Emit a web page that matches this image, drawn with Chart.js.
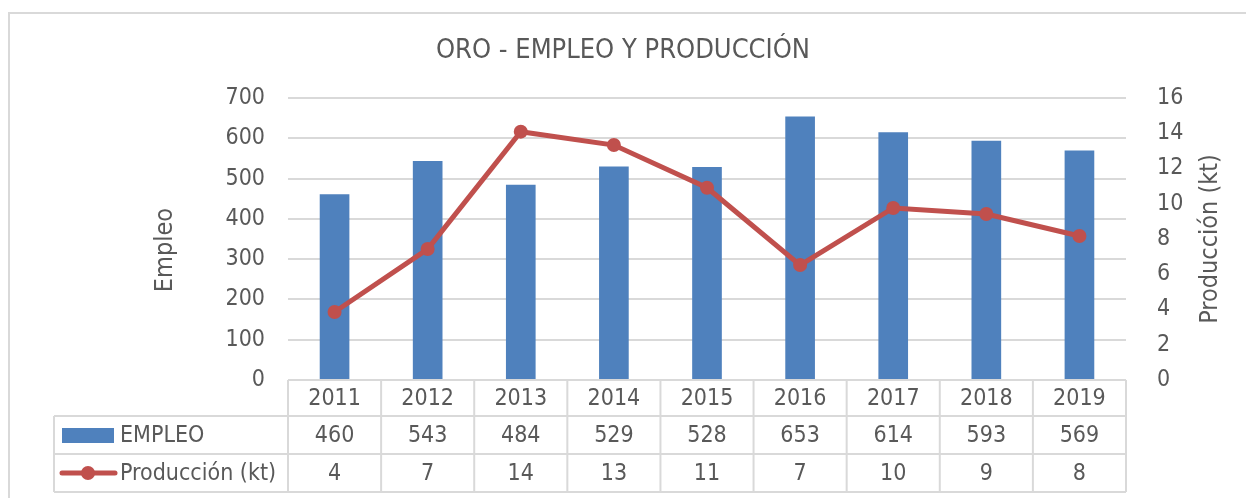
<!DOCTYPE html>
<html>
<head>
<meta charset="utf-8">
<script src="https://cdn.jsdelivr.net/npm/chart.js@4.4.1/dist/chart.umd.min.js"></script>
<style>
  html, body { margin: 0; padding: 0; background: #ffffff; }
  canvas { display: block; }
</style>
</head>
<body>
<canvas id="c" width="1246" height="498"></canvas>
<script>
const categories = ['2011', '2012', '2013', '2014', '2015', '2016', '2017', '2018', '2019'];
const empleo = [460, 543, 484, 529, 528, 653, 614, 593, 569];
const produccion = [3.86, 7.43, 14.09, 13.33, 10.91, 6.52, 9.76, 9.42, 8.17];
const chartTitle = 'ORO - EMPLEO Y PRODUCCIÓN';
const empleoLabel = 'EMPLEO';
const produccionLabel = 'Producción (kt)';
const leftAxisTitle = 'Empleo';
const rightAxisTitle = 'Producción (kt)';

const FONT = "'DejaVu Sans Condensed', 'Liberation Sans Narrow', sans-serif";
const TEXT = '#595959';
const GRID = '#d9d9d9';
const BLUE = '#4f81bd';
const RED = '#c0504d';

Chart.defaults.font.family = FONT;
Chart.defaults.color = TEXT;

const frameAndTable = {
  id: 'frameAndTable',
  beforeDraw(chart) {
    const ctx = chart.ctx;
    ctx.save();
    ctx.fillStyle = '#ffffff';
    ctx.fillRect(0, 0, chart.width, chart.height);
    ctx.strokeStyle = GRID;
    ctx.lineWidth = 2;
    ctx.strokeRect(9, 13, chart.width + 50, chart.height + 50);
    ctx.restore();
  },
  afterDraw(chart) {
    const ctx = chart.ctx;
    const x = chart.scales.x;
    const area = chart.chartArea;
    const n = categories.length;
    const colW = (area.right - area.left) / n;
    const rows = [area.bottom, area.bottom + 36, area.bottom + 74, area.bottom + 112];
    const tableLeft = 54;
    ctx.save();
    ctx.strokeStyle = GRID;
    ctx.lineWidth = 2;
    ctx.beginPath();
    ctx.moveTo(area.left, rows[0]); ctx.lineTo(area.right, rows[0]);
    for (let r = 1; r < rows.length; r++) {
      ctx.moveTo(tableLeft, rows[r]); ctx.lineTo(area.right, rows[r]);
    }
    for (let i = 0; i <= n; i++) {
      const cx = area.left + i * colW;
      ctx.moveTo(cx, rows[0]); ctx.lineTo(cx, rows[3]);
    }
    ctx.moveTo(tableLeft, rows[1]); ctx.lineTo(tableLeft, rows[3]);
    ctx.stroke();

    ctx.fillStyle = TEXT;
    ctx.font = '23px ' + FONT;
    ctx.textAlign = 'center';
    ctx.textBaseline = 'middle';
    for (let i = 0; i < n; i++) {
      const cx = x.getPixelForValue(i);
      ctx.fillText(categories[i], cx, (rows[0] + rows[1]) / 2 + 1);
      ctx.fillText(String(empleo[i]), cx, (rows[1] + rows[2]) / 2 + 1);
      ctx.fillText(String(Math.round(produccion[i])), cx, (rows[2] + rows[3]) / 2 + 1);
    }
    const y1 = (rows[1] + rows[2]) / 2;
    const y2 = (rows[2] + rows[3]) / 2;
    ctx.fillStyle = BLUE;
    ctx.fillRect(62, y1 - 7, 52, 15);
    ctx.strokeStyle = RED;
    ctx.lineWidth = 5;
    ctx.lineCap = 'round';
    ctx.beginPath();
    ctx.moveTo(62, y2); ctx.lineTo(115, y2);
    ctx.stroke();
    ctx.fillStyle = RED;
    ctx.beginPath();
    ctx.arc(88, y2, 7, 0, Math.PI * 2);
    ctx.fill();
    ctx.fillStyle = TEXT;
    ctx.textAlign = 'left';
    ctx.fillText(empleoLabel, 120, y1 + 1);
    ctx.fillText(produccionLabel, 120, y2 + 1);

    // axis titles (both read bottom to top)
    ctx.font = '25px ' + FONT;
    ctx.textAlign = 'center';
    ctx.save();
    ctx.translate(165, 250);
    ctx.rotate(-Math.PI / 2);
    ctx.fillText(leftAxisTitle, 0, 0);
    ctx.restore();
    ctx.translate(1210, 239);
    ctx.rotate(-Math.PI / 2);
    ctx.fillText(rightAxisTitle, 0, 0);
    ctx.restore();
  }
};

new Chart(document.getElementById('c'), {
  data: {
    labels: categories,
    datasets: [
      {
        type: 'line',
        label: produccionLabel,
        data: produccion,
        yAxisID: 'y1',
        borderColor: RED,
        backgroundColor: RED,
        borderWidth: 5,
        pointRadius: 7,
        pointHoverRadius: 7,
        pointBackgroundColor: RED,
        pointBorderColor: RED,
        pointBorderWidth: 0,
        tension: 0,
        order: 0
      },
      {
        type: 'bar',
        label: empleoLabel,
        data: empleo,
        yAxisID: 'y',
        backgroundColor: BLUE,
        borderWidth: 0,
        barThickness: 29,
        order: 1
      }
    ]
  },
  options: {
    responsive: false,
    animation: false,
    layout: { padding: { top: 0, left: 0, right: 0, bottom: 118 } },
    plugins: {
      legend: { display: false },
      tooltip: { enabled: false },
      title: {
        display: true,
        text: chartTitle,
        color: TEXT,
        font: { size: 27, weight: 'normal', family: FONT },
        padding: { top: 35, bottom: 30.6 }
      }
    },
    scales: {
      x: {
        display: false,
        offset: true,
        grid: { display: false }
      },
      y: {
        position: 'left',
        min: 0,
        max: 700,
        ticks: { stepSize: 100, padding: 23, color: TEXT, font: { size: 23 } },
        grid: { color: GRID, lineWidth: 2, drawTicks: false },
        border: { display: false },
        afterFit(scale) { scale.width = 288; }
      },
      y1: {
        position: 'right',
        min: 0,
        max: 16,
        ticks: { stepSize: 2, padding: 31, color: TEXT, font: { size: 23 } },
        grid: { display: false, drawTicks: false },
        border: { display: false },
        afterFit(scale) { scale.width = 120; }
      }
    }
  },
  plugins: [frameAndTable]
});
</script>
</body>
</html>
